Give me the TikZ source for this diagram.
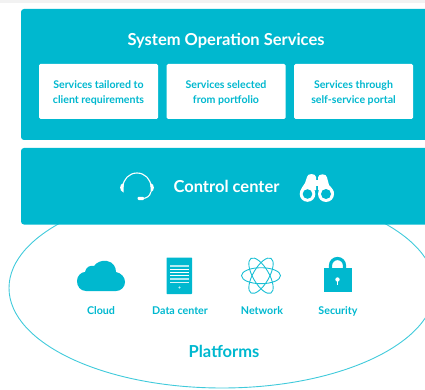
\documentclass[tikz,border=0pt]{standalone}
\usepackage{fontspec}
\setmainfont{Lato}
\definecolor{brand}{HTML}{00B8CF}
\definecolor{strip}{HTML}{F2F2F2}
\tikzset{
  panel/.style={fill=brand,draw=none,rounded corners=3},
  card/.style={fill=white,draw=none,rounded corners=1.5,minimum width=119,minimum height=55,inner sep=0pt},
  cardtext/.style={inner sep=0pt,align=center,text=brand,yshift=-1pt,font=\fontsize{10.6}{15}\selectfont\bfseries},
  title/.style={text=white,inner sep=0pt,font=\fontsize{16.5}{19}\selectfont\bfseries},
  lab/.style={text=brand,inner sep=0pt,font=\fontsize{10.7}{12}\selectfont\bfseries},
  iconfill/.style={fill=brand,draw=none},
  iconw/.style={fill=white,draw=none},
  orbit/.style={draw=brand!90,line width=0.9,fill=none},
}
\begin{document}
\begin{tikzpicture}[x=1pt,y=-1pt]
\useasboundingbox (0,0) rectangle (425,390);
\fill[strip] (0,0) rectangle (425,3);
% ellipse
\draw[brand!75,line width=0.9] (222,288) ellipse [x radius=213,y radius=100];
% panels
\fill[panel] (21,9) rectangle (440,140);
\fill[panel] (21,148) rectangle (440,224.5);
\node[title] (sos) at (226,40.5) {System Operation Services};
\node[card,label={[cardtext]center:{Services tailored to\\client requirements}}] (c1) at (98.5,91.5) {};
\node[card,label={[cardtext]center:{Services selected\\from portfolio}}] (c2) at (226,91.5) {};
\node[card,label={[cardtext]center:{Services through\\self-service portal}}] (c3) at (353.5,91.5) {};
\node[title] (cc) at (226.5,186) {Control center};
% headset
\draw[white,line width=1.1] (123,187) arc[start angle=180,end angle=360,x radius=14,y radius=14];
\fill[iconw] (123.5,183) .. controls (119,184) and (119,191) .. (123.5,192.5) -- cycle;
\fill[iconw] (150.5,183) .. controls (155,184) and (155,191) .. (150.5,192.5) -- cycle;
\draw[white,line width=1.1] (150.8,192) .. controls (150,196) and (147,198.5) .. (142,198.5);
\fill[iconw,rounded corners=1] (137.5,196.8) rectangle (144,200);
% binoculars
\fill[iconw] (307,177) arc[start angle=180,end angle=360,x radius=4.5,y radius=3] -- (316,190) -- (300,194) .. controls (300,189) and (304,185) .. (305,183) -- cycle;
\fill[iconw] (318,177.5) arc[start angle=180,end angle=360,x radius=4.5,y radius=3.2] -- (329,185) .. controls (332,188) and (334,191) .. (334,194) -- (318,190) -- cycle;
\fill[iconw] (315,180) rectangle (319,186);
\fill[iconw] (307.5,194) circle[radius=7.8];
\fill[iconw] (326,194) circle[radius=8];
\fill[brand] (307.5,194) circle[radius=4.8];
\fill[brand] (326,194) circle[radius=5];
% cloud
\fill[iconfill] (86,291) .. controls (80,291) and (77,286) .. (77,281)
  .. controls (77,276) and (81,272) .. (85,272)
  .. controls (86,267) and (90,265) .. (94,266)
  .. controls (97,262) and (102,260) .. (107,261)
  .. controls (113,262) and (116,267) .. (116,272)
  .. controls (121,273) and (125,277) .. (125,282)
  .. controls (125,287) and (121,291) .. (116,291) -- cycle;
% data center
\fill[iconfill,rounded corners=0.6] (166.5,257.5) rectangle (192,294);
\draw[white!70!brand,line width=2.2] (170,266) -- (189,266);
\foreach \yy in {269.5,272.5,275.5}
  \draw[white,line width=0.9] (170,\yy) -- (189,\yy);
\draw[white!70!brand,line width=2] (170,279) -- (189,279);
\draw[white!85!brand,line width=0.9] (170,282) -- (189,282);
\fill[white!80!brand] (179.5,287.5) circle[radius=1.1];
% atom
\draw[orbit] (261,275.7) ellipse [x radius=19.5,y radius=8];
\draw[orbit,rotate around={60:(261,275.7)}] (261,275.7) ellipse [x radius=20,y radius=8];
\draw[orbit,rotate around={120:(261,275.7)}] (261,275.7) ellipse [x radius=20,y radius=8];
% lock
\draw[brand,line width=3.2] (330.5,270) -- (330.5,265.5) arc[start angle=180,end angle=360,x radius=7,y radius=7] -- (344.5,270);
\fill[iconfill] (323.5,268) rectangle (351.5,292);
\fill[iconw] (337.5,279.5) circle[radius=2.2];
\fill[iconw] (336.7,280) rectangle (338.3,285);
% labels
\node[lab] (l1) at (101,311) {Cloud};
\node[lab] (l2) at (180,311) {Data center};
\node[lab] (l3) at (262,311) {Network};
\node[lab] (l4) at (338,311) {Security};
\node[lab,font=\fontsize{16.5}{19}\selectfont\bfseries] (pf) at (224,351) {Platforms};
\end{tikzpicture}
\end{document}
